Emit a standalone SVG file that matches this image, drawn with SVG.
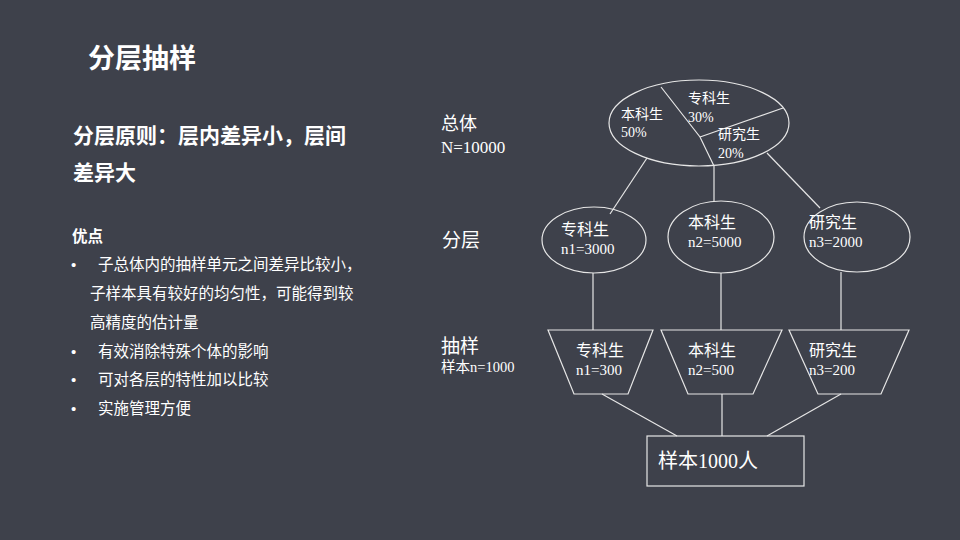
<svg xmlns="http://www.w3.org/2000/svg" width="960" height="540" viewBox="0 0 960 540">
<style>
.sans{font-family:"Noto Sans CJK SC","Liberation Sans",sans-serif;fill:#ffffff}
.ser{font-family:"Liberation Serif","Noto Sans CJK SC",serif;fill:#ffffff}
.bul{font-family:"Liberation Sans",sans-serif;fill:#ffffff;font-size:15px}
.shape{fill:none;stroke:#e6e6e6;stroke-width:1.2}
.conn line,.conn polyline{stroke:#e6e6e6;stroke-width:1.2;fill:none}
</style>
<rect x="0" y="0" width="960" height="540" fill="#3e414b"/>
<g id="title"><text class="sans" x="88" y="68" font-size="27" font-weight="bold">分层抽样</text></g>
<g id="principle" class="sans" font-size="21" font-weight="bold">
<text x="73" y="143">分层原则：层内差异小，层间</text>
<text x="73" y="180">差异大</text>
</g>
<g id="advantages" class="sans" font-size="15.5">
<text x="72" y="242" font-weight="bold">优点</text>
<text class="bul" x="71" y="270">•</text><text x="98" y="270">子总体内的抽样单元之间差异比较小，</text>
<text x="90" y="299">子样本具有较好的均匀性，可能得到较</text>
<text x="90" y="328">高精度的估计量</text>
<text class="bul" x="71" y="357">•</text><text x="98" y="357">有效消除特殊个体的影响</text>
<text class="bul" x="71" y="385">•</text><text x="98" y="385">可对各层的特性加以比较</text>
<text class="bul" x="71" y="414">•</text><text x="98" y="414">实施管理方便</text>
</g>
<g id="row-labels" class="ser">
<text x="441" y="130" font-size="18">总体</text>
<text x="441" y="153" font-size="17">N=10000</text>
<text x="442" y="247" font-size="19">分层</text>
<text x="441" y="353" font-size="19">抽样</text>
<text x="441" y="372" font-size="14.5">样本n=1000</text>
</g>
<g id="connectors" class="conn">
<line x1="647" y1="158" x2="610" y2="214"/>
<line x1="714" y1="166" x2="714" y2="201"/>
<line x1="767" y1="153" x2="820" y2="208"/>
<line x1="593" y1="273" x2="593" y2="330"/>
<line x1="721" y1="273" x2="721" y2="330"/>
<line x1="841" y1="272" x2="841" y2="330"/>
<line x1="602" y1="394" x2="677" y2="436"/>
<line x1="722" y1="394" x2="722" y2="436"/>
<line x1="841" y1="394" x2="767" y2="436"/>
</g>
<g id="population">
<ellipse class="shape" cx="699" cy="123" rx="90" ry="43"/>
<polyline class="shape" points="661,87 700,137 714,166"/>
<line class="shape" x1="700" y1="137" x2="783" y2="108"/>
<g class="ser" font-size="14">
<text x="621" y="119">本科生</text><text x="621" y="137">50%</text>
<text x="688" y="103">专科生</text><text x="688" y="122">30%</text>
<text x="718" y="139">研究生</text><text x="718" y="158">20%</text>
</g>
</g>
<g id="stratum-1">
<ellipse class="shape" cx="594" cy="240" rx="52" ry="33"/>
<text class="ser" x="561" y="235" font-size="16">专科生</text>
<text class="ser" x="561" y="254" font-size="15">n1=3000</text>
</g>
<g id="stratum-2">
<ellipse class="shape" cx="721" cy="237" rx="53" ry="36"/>
<text class="ser" x="688" y="228" font-size="16">本科生</text>
<text class="ser" x="688" y="247" font-size="15">n2=5000</text>
</g>
<g id="stratum-3">
<ellipse class="shape" cx="857" cy="237" rx="53" ry="35"/>
<text class="ser" x="809" y="228" font-size="16">研究生</text>
<text class="ser" x="809" y="247" font-size="15">n3=2000</text>
</g>
<g id="sample-1">
<polygon class="shape" points="548,330 653,330 628,394 574,394"/>
<text class="ser" x="576" y="356" font-size="16">专科生</text>
<text class="ser" x="576" y="375" font-size="15">n1=300</text>
</g>
<g id="sample-2">
<polygon class="shape" points="661,330 782,330 753,394 688,394"/>
<text class="ser" x="688" y="356" font-size="16">本科生</text>
<text class="ser" x="688" y="375" font-size="15">n2=500</text>
</g>
<g id="sample-3">
<polygon class="shape" points="789,330 909,330 881,394 818,394"/>
<text class="ser" x="809" y="356" font-size="16">研究生</text>
<text class="ser" x="809" y="375" font-size="15">n3=200</text>
</g>
<g id="total-sample">
<rect class="shape" x="647" y="436" width="157" height="50"/>
<text class="ser" x="658" y="468" font-size="20">样本1000人</text>
</g>
</svg>
